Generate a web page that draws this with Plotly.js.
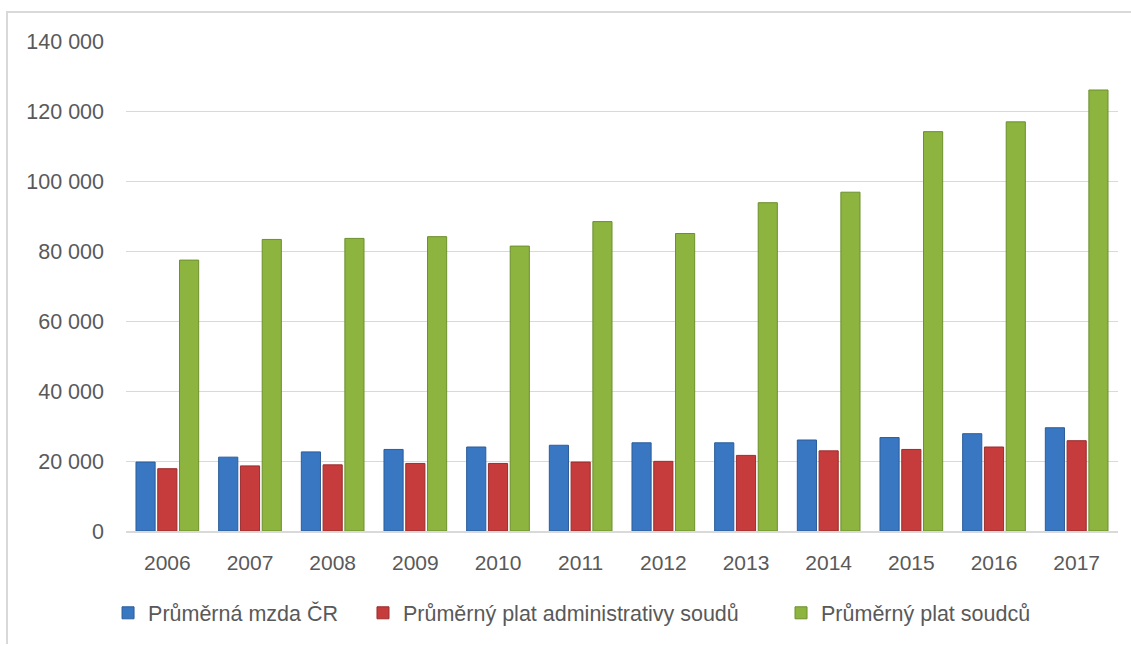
<!DOCTYPE html>
<html>
<head>
<meta charset="utf-8">
<script src="https://cdn.plot.ly/plotly-3.0.1.min.js"></script>
<style>
  html, body { margin: 0; padding: 0; background: #ffffff; }
  #wrap { position: relative; width: 1131px; height: 646px; }
  #frame { position: absolute; left: 6px; top: 11px; width: 1125px; height: 633px;
           border-left: 2px solid #d9d9d9; border-top: 2px solid #d9d9d9; box-sizing: border-box; }
  #chart { position: absolute; left: 0; top: 0; width: 1131px; height: 646px; }
</style>
</head>
<body>
<div id="wrap">
  <div id="frame"></div>
  <div id="chart"></div>
</div>
<script>
const years = ['2006','2007','2008','2009','2010','2011','2012','2013','2014','2015','2016','2017'];
const seriesNames = ['Průměrná mzda ČR', 'Průměrný plat administrativy soudů', 'Průměrný plat soudců'];
const avgWageCR = [19700, 21100, 22600, 23300, 24000, 24500, 25200, 25200, 26000, 26700, 27800, 29500];
const avgCourtAdmin = [17800, 18600, 18900, 19300, 19300, 19700, 19900, 21600, 22900, 23300, 24000, 25800];
const avgJudges = [77400, 83300, 83600, 84100, 81400, 88400, 85000, 93800, 96800, 114100, 116900, 126000];
const yTicks = [0, 20000, 40000, 60000, 80000, 100000, 120000, 140000];

const FONT = '"Liberation Sans", Arial, sans-serif';
const TXT = '#595959';

const fills = ['#3a77c2', '#c63b3b', '#8cb43f'];
const edges = ['#2b5d99', '#9a2d2d', '#6d8f2e'];
const values = [avgWageCR, avgCourtAdmin, avgJudges];
const legendIds = ['legend', 'legend2', 'legend3'];

const traces = values.map((v, i) => ({
  type: 'bar',
  name: seriesNames[i],
  x: years,
  y: v,
  legend: legendIds[i],
  marker: { color: fills[i], line: { color: edges[i], width: 1 } },
  hoverinfo: 'x+y+name'
}));

const legendBase = {
  orientation: 'h', yanchor: 'middle', xanchor: 'left', y: -0.167,
  font: { family: FONT, size: 21.5, color: TXT },
  bgcolor: 'rgba(0,0,0,0)', borderwidth: 0
};

const layout = {
  width: 1131, height: 646,
  margin: { l: 126, r: 13, t: 41, b: 115 },
  paper_bgcolor: 'rgba(0,0,0,0)',
  plot_bgcolor: 'rgba(0,0,0,0)',
  separators: ', ',
  barmode: 'group',
  bargap: 0.21,
  bargroupgap: 0.12,
  showlegend: true,
  font: { family: FONT, size: 21, color: TXT },
  xaxis: {
    type: 'category',
    showgrid: false,
    showline: true, linecolor: '#d9d9d9', linewidth: 2,
    ticks: '', ticklabelstandoff: 12,
    tickfont: { family: FONT, size: 21, color: TXT },
    zeroline: false, fixedrange: true
  },
  yaxis: {
    range: [0, 140000],
    tickvals: yTicks,
    tickformat: ',d',
    showgrid: true, gridcolor: '#d9d9d9', gridwidth: 1,
    showline: false, zeroline: false,
    ticks: '', ticklabelstandoff: 21,
    tickfont: { family: FONT, size: 21.5, color: TXT },
    fixedrange: true
  },
  legend: Object.assign({}, legendBase, { x: -0.0181 }),
  legend2: Object.assign({}, legendBase, { x: 0.2389 }),
  legend3: Object.assign({}, legendBase, { x: 0.6603 })
};

Plotly.newPlot('chart', traces, layout, { displayModeBar: false, staticPlot: false });
</script>
</body>
</html>
